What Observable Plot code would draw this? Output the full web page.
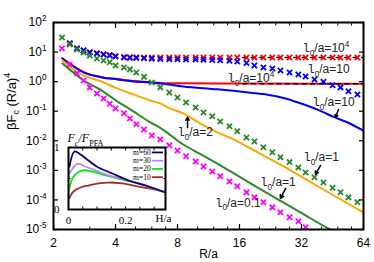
<!DOCTYPE html>
<html><head><meta charset="utf-8">
<script src="https://cdn.jsdelivr.net/npm/d3@7"></script>
<script src="https://cdn.jsdelivr.net/npm/@observablehq/plot@0.6"></script>
<style>
html,body{margin:0;padding:0;background:#fff;}
#wrap{position:relative;width:374px;height:262px;}
</style></head><body><div id="wrap"></div>
<script>
// ---------------- data ----------------
const R_CROSS = [2.2, 2.4, 2.6, 2.8, 3.0, 3.25, 3.5, 3.75, 4.0, 4.4, 4.7, 5.05, 5.5, 6.0, 6.6, 7.3, 8.0, 8.8, 9.8, 10.7, 11.8, 12.9, 14.3, 15.6, 17.3, 18.9, 20.9, 23.1, 25.3, 28.0, 30.9, 33.5, 37.0, 40.9, 45.3, 49.5, 54.1, 59.8];
const CROSS_RED = [null, 20, 13.5, 11.5, 9.9, 9.2, 8.5, 7.9, 7.3, 6.8, 6.7, 6.7, 6.6, 6.6, 6.6, 6.6, 6.6, 6.6, 6.6, 6.6, 6.6, 6.6, 6.6, 6.6, 6.6, 6.6, 6.6, 6.6, 6.6, 6.6, 6.6, 6.6, 6.6, 6.6, 6.6, 6.6, 6.6, 6.6];
const CROSS_BLUE = [null, 19.5, 13.2, 11.3, 9.7, 9.0, 8.3, 7.7, 7.1, 6.6, 6.4, 6.3, 6.2, 6.0, 5.8, 5.7, 5.7, 5.6, 5.6, 5.5, 5.4, 5.3, 5.1, 4.8, 4.3, 3.5, 3.0, 2.8, 2.4, 2.05, 1.75, 1.5, 1.19, 1.0, 0.75, 0.64, 0.47, 0.37];
const CROSS_GREEN = [31, 18, 12.2, 9.7, 7.7, 6.1, 5.2, 4.5, 3.5, 3.0, 2.6, 2.05, 1.45, 0.94, 0.64, 0.43, 0.29, 0.198, 0.134, 0.091, 0.067, 0.045, 0.031, 0.021, 0.013, 0.0095, 0.006, 0.0041, 0.0028, 0.0019, 0.00126, 0.00085, 0.00058, 0.00039, 0.00026, 0.000181, 0.000122, 0.000083];
const CROSS_MAGENTA = [13.2, 3.8, 1.9, 1.1, 0.64, 0.40, 0.27, 0.18, 0.124, 0.085, 0.057, 0.036, 0.024, 0.015, 0.011, 0.0070, 0.0047, 0.0030, 0.0020, 0.00136, 0.00092, 0.00063, 0.00042, 0.00029, 0.00018, 0.000122, 0.000083, 0.000056, 0.000038, 0.000026, 0.000019, 0.0000119, 0.000008];

const R_RED_LINE = [2.21, 2.42, 2.8, 3.43, 4.08, 4.88, 5.9, 6.62, 8.5, 12, 20, 35, 64];
const RED_LINE = [6.2, 3.9, 2.1, 1.42, 1.22, 1.05, 0.96, 0.9, 0.88, 0.87, 0.86, 0.85, 0.85];
const R_BLUE_LINE = [2.21, 2.42, 2.8, 3.43, 4.08, 4.88, 5.9, 6.62, 8.52, 12.5, 18.1, 21.9, 26.2, 31.6, 38.3, 45.9, 55.5, 64];
const BLUE_LINE = [6.1, 3.8, 2.05, 1.39, 1.19, 1.02, 0.94, 0.87, 0.69, 0.55, 0.42, 0.36, 0.28, 0.185, 0.113, 0.064, 0.037, 0.022];
const R_ORANGE_LINE = [2.21, 2.42, 2.8, 3.43, 4.08, 4.88, 5.9, 6.62, 7.15, 8.52, 10.3, 12.5, 15.0, 18.1, 26.2, 38.3, 64];
const ORANGE_LINE = [5.2, 3.0, 1.62, 1.0, 0.59, 0.37, 0.23, 0.18, 0.134, 0.085, 0.039, 0.0192, 0.0111, 0.0055, 0.00136, 0.00029, 0.000038];
const R_GREEN_LINE = [2.21, 2.42, 2.8, 3.43, 4.08, 4.88, 5.9, 6.62, 8.52, 10.3, 14.2, 20.2, 31.6, 45.3, 49.5];
const GREEN_LINE = [4.1, 2.4, 1.1, 0.50, 0.215, 0.099, 0.042, 0.027, 0.0075, 0.0036, 0.001, 0.00023, 0.000038, 0.0000093, 0.0000072];

const R_ASYM = [16.6, 64];
const ASYM_HIGH = [6.6, 6.6];
const ASYM_LOW = [0.85, 0.85];

const X_TICKS = [2, 4, 8, 16, 32, 64];
const X_TICK_LABELS = ["2", "4", "8", "16", "32", "64"];
const X_MINOR = [3, 5, 6, 7, 10, 12, 14, 20, 24, 28, 40, 48, 56];
const Y_TICKS = [1e-5, 1e-4, 1e-3, 1e-2, 1e-1, 1, 10, 100];
const Y_TICK_LABELS = ["10^-5", "10^-4", "10^-3", "10^-2", "10^-1", "10^0", "10^1", "10^2"];

const ANNOT_TEXT = ["l_0/a=10^4", "l_0/a=10", "l_0/a=10^4", "l_0/a=10", "l_0/a=2", "l_0/a=1", "l_0/a=1", "l_0/a=0.1"];
const ANNOT_R = [32.4, 34.2, 14.0, 36.2, 8.0, 32.7, 20.2, 12.2];
const ANNOT_V = [13.2, 2.58, 1.28, 0.198, 0.0192, 0.00275, 0.000394, 0.000077];
const ARROW_R1 = [48.4, 8.95, 39.6, 26.8];
const ARROW_V1 = [0.115, 0.0284, 0.00148, 0.000247];
const ARROW_R2 = [46.8, 8.95, 37.4, 25.3];
const ARROW_V2 = [0.062, 0.062, 0.00073, 0.000113];

// inset
const H_M60 = [0.0035, 0.021, 0.042, 0.070, 0.105, 0.154, 0.210, 0.270, 0.340];
const F_M60 = [0.69, 0.935, 0.887, 0.79, 0.677, 0.58, 0.468, 0.387, 0.274];
const H_M30 = [0.0035, 0.032, 0.060, 0.095, 0.140, 0.210, 0.270, 0.340];
const F_M30 = [0.58, 0.74, 0.69, 0.63, 0.55, 0.47, 0.39, 0.27];
const H_M20 = [0.0035, 0.0175, 0.049, 0.084, 0.130, 0.189, 0.260, 0.340];
const F_M20 = [0.34, 0.53, 0.63, 0.61, 0.55, 0.48, 0.40, 0.27];
const H_M10 = [0.0035, 0.0175, 0.042, 0.070, 0.105, 0.140, 0.189, 0.245, 0.305, 0.340];
const F_M10 = [0.19, 0.29, 0.355, 0.387, 0.42, 0.435, 0.42, 0.37, 0.32, 0.28];
const LEGEND_LABELS = ["m=60", "m=30", "m=20", "m=10"];
const INSET_X_TICKS = [0, 0.2];
const INSET_X_TICK_LABELS = ["0", "0.2"];
const INSET_X_MINOR = [0.05, 0.1, 0.15, 0.2, 0.25, 0.3];
const INSET_Y_TICKS = [0, 1];

// ---------------- colours ----------------
const RED = "#ff0000", BLUE = "#0000ff", GREEN = "#2a8a2a", MAGENTA = "#ff00ff", ORANGE = "#ffa500";
const NAVY = "#000080", VIOLET = "#bf80ff", LIME = "#00ee00", BROWN = "#a52a2a";
const LEGEND_COLORS = [NAVY, VIOLET, LIME, BROWN];

const crossData = vals => R_CROSS.map((r, i) => ({R: r, v: vals[i]})).filter(d => d.v != null);
const pairs = (xs, ys) => xs.map((x, i) => ({R: x, v: ys[i]}));

const crossOpts = c => ({x: "R", y: "v", symbol: "times", r: 2.5, stroke: c, strokeWidth: 1.8, clip: true});
const lineOpts = c => ({x: "R", y: "v", stroke: c, strokeWidth: 2, curve: "monotone-x", clip: true});

const annots = ANNOT_TEXT.map((t, i) => ({t, R: ANNOT_R[i], v: ANNOT_V[i]}));
const arrows = ARROW_R1.map((r, i) => ({x1: r, y1: ARROW_V1[i], x2: ARROW_R2[i], y2: ARROW_V2[i]}));

const main = Plot.plot({
  width: 374, height: 262,
  marginLeft: 53, marginRight: 11, marginTop: 22, marginBottom: 33,
  x: {type: "log", base: 2, domain: [2, 64], label: null},
  y: {type: "log", domain: [1e-5, 1e2], label: null},
  style: {fontFamily: "Liberation Sans", fontSize: "12px", background: "white"},
  marks: [
    Plot.line(pairs(R_RED_LINE, RED_LINE), lineOpts(RED)),
    Plot.line(pairs(R_BLUE_LINE, BLUE_LINE), lineOpts(BLUE)),
    Plot.line(pairs(R_ORANGE_LINE, ORANGE_LINE), lineOpts(ORANGE)),
    Plot.line(pairs(R_GREEN_LINE, GREEN_LINE), lineOpts(GREEN)),
    Plot.line(pairs(R_ASYM, ASYM_LOW), {x: "R", y: "v", stroke: "black", strokeWidth: 1.5, strokeDasharray: "4,4.5"}),
    Plot.line(pairs(R_ASYM, ASYM_HIGH), {x: "R", y: "v", stroke: "black", strokeWidth: 1.5, strokeDasharray: "4,4.5"}),
    Plot.dot(crossData(CROSS_RED), crossOpts(RED)),
    Plot.dot(crossData(CROSS_BLUE), crossOpts(BLUE)),
    Plot.dot(crossData(CROSS_GREEN), crossOpts(GREEN)),
    Plot.dot(crossData(CROSS_MAGENTA), crossOpts(MAGENTA)),
    Plot.arrow(arrows, {x1: "x1", y1: "y1", x2: "x2", y2: "y2", stroke: "black", strokeWidth: 1.5, headLength: 4}),
    Plot.text(annots, {x: "R", y: "v", text: "t", textAnchor: "start", fontSize: 12, fill: "#222"}),
    // inward ticks
    Plot.axisX(X_TICKS, {anchor: "bottom", tickSize: -5, tickFormat: () => "", strokeWidth: 1.2}),
    Plot.axisX(X_TICKS, {anchor: "top", tickSize: -5, tickFormat: () => "", strokeWidth: 1.2}),
    Plot.axisX(X_MINOR, {anchor: "bottom", tickSize: -2.5, tickFormat: () => ""}),
    Plot.axisX(X_MINOR, {anchor: "top", tickSize: -2.5, tickFormat: () => ""}),
    Plot.axisY(Y_TICKS, {anchor: "left", tickSize: -5, tickFormat: () => "", strokeWidth: 1.2}),
    Plot.axisY(Y_TICKS, {anchor: "right", tickSize: -5, tickFormat: () => "", strokeWidth: 1.2}),
    // tick labels
    Plot.axisX(X_TICKS, {anchor: "bottom", tickSize: 0, tickPadding: 9, tickFormat: d => X_TICK_LABELS[X_TICKS.indexOf(d)]}),
    Plot.axisY(Y_TICKS, {anchor: "left", tickSize: 0, tickPadding: 7, tickFormat: d => Y_TICK_LABELS[Y_TICKS.indexOf(d)]}),
    Plot.text(["R/a"], {frameAnchor: "bottom", lineAnchor: "middle", dy: 25, fontSize: 12}),
    Plot.text(["βF_c (R/a)^4"], {frameAnchor: "left", lineAnchor: "middle", dx: -42, dy: 4, rotate: -90, fontSize: 13}),
    Plot.frame({stroke: "black", strokeWidth: 2})
  ]
});
document.getElementById("wrap").appendChild(main);

const inset = Plot.plot({
  width: 150, height: 100,
  marginLeft: 28, marginRight: 25, marginTop: 19, marginBottom: 19,
  x: {domain: [0, 0.34], label: null},
  y: {domain: [0, 1], label: null},
  style: {fontFamily: "Liberation Serif", fontSize: "11px", background: "none"},
  marks: [
    Plot.frame({fill: "white"}),
    Plot.line(pairs(H_M10, F_M10), {x: "R", y: "v", stroke: BROWN, strokeWidth: 1.8, curve: "catmull-rom"}),
    Plot.line(pairs(H_M20, F_M20), {x: "R", y: "v", stroke: LIME, strokeWidth: 1.8, curve: "catmull-rom"}),
    Plot.line(pairs(H_M30, F_M30), {x: "R", y: "v", stroke: VIOLET, strokeWidth: 1.8, curve: "catmull-rom"}),
    Plot.line(pairs(H_M60, F_M60), {x: "R", y: "v", stroke: NAVY, strokeWidth: 1.8, curve: "catmull-rom"}),
    Plot.ruleY(LEGEND_LABELS.map((l, i) => ({y: 0.92 - i * 0.133, c: LEGEND_COLORS[i]})), {y: "y", x1: 0.294, x2: 0.333, stroke: "c", strokeWidth: 1.8}),
    Plot.text(LEGEND_LABELS.map((l, i) => ({l, y: 0.92 - i * 0.133})), {x: 0.288, y: "y", text: "l", textAnchor: "end", fontSize: 7.5}),
    Plot.axisX(INSET_X_MINOR, {anchor: "bottom", tickSize: -2.5, tickFormat: () => ""}),
    Plot.axisX(INSET_X_MINOR, {anchor: "top", tickSize: -2.5, tickFormat: () => ""}),
    Plot.axisY([0.5], {anchor: "left", tickSize: -2.5, tickFormat: () => ""}),
    Plot.axisY([0.5], {anchor: "right", tickSize: -2.5, tickFormat: () => ""}),
    Plot.axisX(INSET_X_TICKS, {anchor: "bottom", tickSize: 0, tickPadding: 7, tickFormat: d => INSET_X_TICK_LABELS[INSET_X_TICKS.indexOf(d)]}),
    Plot.axisY(INSET_Y_TICKS, {anchor: "left", tickSize: 0, tickPadding: 9, tickFormat: d => String(d)}),
    Plot.text(["H/a"], {frameAnchor: "bottom-right", lineAnchor: "middle", dx: 6, dy: 9, fontSize: 11}),
    Plot.text(["F_c/F_{PFA}"], {frameAnchor: "top-left", lineAnchor: "middle", dx: -1, dy: -9, textAnchor: "start", fontSize: 12, fontStyle: "italic"}),
    Plot.frame({stroke: "black", strokeWidth: 2})
  ]
});
// embed the inset into the main SVG at a fixed offset
const NS = "http://www.w3.org/2000/svg";
const insetG = document.createElementNS(NS, "g");
insetG.setAttribute("transform", "translate(40,128)");
insetG.setAttribute("fill", "currentColor");
insetG.setAttribute("text-anchor", "middle");
insetG.setAttribute("style", "font-family: 'Liberation Serif'; font-size: 11px;");
Array.from(inset.childNodes).forEach(n => { if (n.nodeName.toLowerCase() !== "style") insetG.appendChild(n); });
main.appendChild(insetG);

// ---------- rich text: ^sup, _sub ----------
function richify(el) {
  const s = el.textContent;
  if (!/[\^_]/.test(s)) return;
  const base = parseFloat(getComputedStyle(el).fontSize) || 12;
  const parts = [];
  let i = 0;
  while (i < s.length) {
    const c = s[i];
    if ((c === "^" || c === "_") && i + 1 < s.length) {
      let t;
      if (s[i + 1] === "{") { const k = s.indexOf("}", i + 1); t = s.slice(i + 2, k); i = k + 1; }
      else { const m = s.slice(i + 1).match(/^-?[0-9.]+|^./); t = m[0]; i = i + 1 + t.length; }
      parts.push({t, mode: c});
    } else {
      let j = i; while (j < s.length && s[j] !== "^" && s[j] !== "_") j++;
      parts.push({t: s.slice(i, j), mode: ""}); i = j;
    }
  }
  while (el.firstChild) el.removeChild(el.firstChild);
  let cur = 0;
  const add = (text, mode, family, style) => {
    const target = mode === "^" ? -0.42 * base : mode === "_" ? 0.28 * base : 0;
    const ts = document.createElementNS(NS, "tspan");
    ts.setAttribute("font-size", mode ? 0.68 * base : base);
    ts.setAttribute("dy", (target - cur).toFixed(2));
    if (family) ts.setAttribute("font-family", family);
    if (style) ts.setAttribute("font-style", style);
    cur = target;
    ts.textContent = text;
    el.appendChild(ts);
  };
  parts.forEach((p, idx) => {
    let text = p.t;
    if (idx === 0 && p.mode === "" && s.startsWith("l_")) {
      add("l", "", "Liberation Mono");
      text = text.slice(1);
      if (!text) return;
    }
    add(text, p.mode, null, p.t === "PFA" ? "normal" : null);
  });
}
document.querySelectorAll("#wrap svg text").forEach(el => {
  if (el.querySelector("tspan")) el.querySelectorAll("tspan").forEach(richify);
  else richify(el);
});
</script></body></html>
